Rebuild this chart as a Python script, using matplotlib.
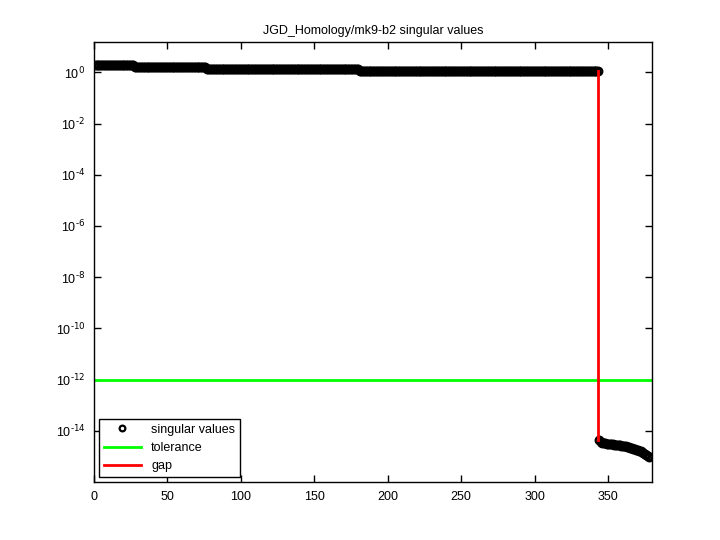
import matplotlib as mpl
mpl.use("Agg")
import matplotlib.pyplot as plt
import numpy as np

mpl.rcParams.update({
    "font.family": ["Liberation Sans", "DejaVu Sans"],
    "font.size": 9,
    "mathtext.default": "regular",
    "xtick.direction": "in",
    "ytick.direction": "in",
    "xtick.top": True,
    "ytick.right": True,
    "axes.linewidth": 1.0,
})

# singular values: plateau levels and how many values sit on each
levels = [1.88, 1.61, 1.31, 1.09]
counts = [27, 49, 104, 163]
# tail after the gap (numerically zero singular values)
tail = [4.5e-15, 3.8e-15, 3.5e-15, 3.4e-15, 3.3e-15, 3.2e-15, 3.2e-15,
        3.1e-15, 3.0e-15, 3.0e-15, 2.95e-15, 2.9e-15, 2.8e-15, 2.8e-15,
        2.75e-15, 2.7e-15, 2.6e-15, 2.55e-15, 2.5e-15, 2.4e-15, 2.35e-15,
        2.25e-15, 2.15e-15, 2.05e-15, 1.95e-15, 1.85e-15, 1.8e-15,
        1.7e-15, 1.6e-15, 1.5e-15, 1.4e-15, 1.3e-15, 1.2e-15, 1.1e-15,
        1.0e-15]
tolerance = 1e-12
rank = 343
yticks = [1e-14, 1e-12, 1e-10, 1e-8, 1e-6, 1e-4, 1e-2, 1e0]
ytick_exps = ["-14", "-12", "-10", "-8", "-6", "-4", "-2", "0"]
xticks = [0, 50, 100, 150, 200, 250, 300, 350]

s = np.concatenate([np.repeat(levels, counts), tail])
idx = np.arange(1, len(s) + 1)

fig = plt.figure(figsize=(7.2, 5.4), dpi=100)
ax = fig.add_axes([0.13, 0.107, 0.776, 0.815])

ax.semilogy(idx, s, "o", color="black", mfc="none", ms=5.5, mew=1.6,
            label="singular values")
ax.plot([0, 380], [tolerance, tolerance], color="#00ff00", lw=2, label="tolerance")
ax.plot([rank, rank], [s[rank - 1], s[rank]], color="red", lw=2, label="gap")

ax.set_xlim(0, 380)
ax.set_ylim(1e-16, 15)
ax.set_xticks(xticks)
ax.set_yticks(yticks)
ax.set_yticklabels([r"$10^{\text{%s}}$" % e for e in ytick_exps])
ax.minorticks_off()
ax.tick_params(length=5, width=1, pad=6)
ax.set_title("JGD_Homology/mk9-b2 singular values", fontsize=9, pad=6)

leg = ax.legend(loc="lower left", fancybox=False, edgecolor="black",
                framealpha=1, borderaxespad=0.4, handlelength=3.0,
                markerscale=0.75, fontsize=9)
leg.get_frame().set_linewidth(1.0)

fig.savefig("out.png", dpi=100)
